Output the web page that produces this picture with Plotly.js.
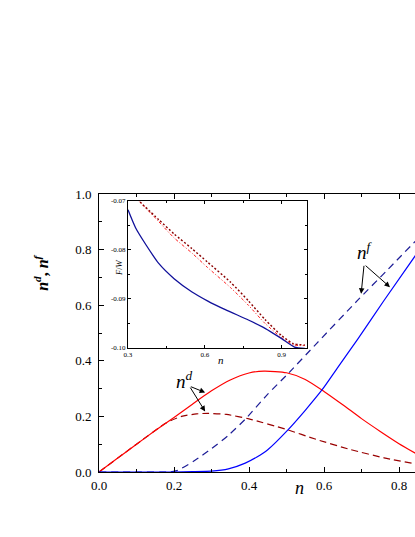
<!DOCTYPE html>
<html><head><meta charset="utf-8">
<script src="https://cdn.plot.ly/plotly-3.0.1.min.js"></script>
<style>html,body{margin:0;padding:0;overflow:hidden;background:#fff;width:415px;height:537px}#chart{width:500px;height:537px}</style>
</head><body><div id="chart"></div><script>
// Main panel: n^d, n^f vs n
const ndSolidN = [0, 0.05, 0.1, 0.15, 0.2, 0.25, 0.3, 0.35, 0.4, 0.44, 0.5, 0.55, 0.6, 0.65, 0.7, 0.75, 0.8, 0.86];
const ndSolidY = [0, 0.05, 0.1, 0.149, 0.196, 0.245, 0.292, 0.331, 0.356, 0.363, 0.357, 0.333, 0.29, 0.242, 0.192, 0.146, 0.102, 0.055];
const ndDashN = [0, 0.1, 0.18, 0.22, 0.26, 0.29, 0.34, 0.4, 0.5, 0.58, 0.67, 0.76, 0.86];
const ndDashY = [0, 0.1, 0.177, 0.2, 0.209, 0.211, 0.207, 0.191, 0.153, 0.117, 0.081, 0.051, 0.025];
const nfDashN = [0, 0.1, 0.19, 0.21, 0.256, 0.3, 0.345, 0.39, 0.45, 0.5, 0.58, 0.69, 0.77, 0.86];
const nfDashY = [0, 0, 0, 0.006, 0.042, 0.084, 0.132, 0.19, 0.28, 0.348, 0.462, 0.618, 0.728, 0.853];
const nfSolidN = [0, 0.1, 0.2, 0.25, 0.3, 0.345, 0.39, 0.42, 0.45, 0.5, 0.55, 0.595, 0.635, 0.69, 0.76, 0.86];
const nfSolidY = [0, 0, 0, 0.001, 0.003, 0.011, 0.032, 0.053, 0.08, 0.146, 0.222, 0.296, 0.373, 0.478, 0.617, 0.81];
// Inset: F/W vs n
const fBlueN = [0.3, 0.33, 0.37, 0.42, 0.48, 0.55, 0.61, 0.68, 0.77, 0.835, 0.9, 0.95, 0.99];
const fBlueY = [-0.0719, -0.0756, -0.079, -0.0828, -0.0859, -0.0886, -0.0904, -0.0922, -0.0943, -0.096, -0.0981, -0.0998, -0.1001];
const fDarkN = [0.335, 0.42, 0.48, 0.55, 0.61, 0.7, 0.77, 0.835, 0.9, 0.945, 0.99];
const fDarkY = [-0.0697, -0.0739, -0.0768, -0.0798, -0.0825, -0.0866, -0.0904, -0.0942, -0.0975, -0.0991, -0.0994];
const fRedN = [0.335, 0.42, 0.48, 0.55, 0.61, 0.7, 0.77, 0.835, 0.9, 0.95, 0.99];
const fRedY = [-0.0697, -0.0743, -0.0776, -0.0807, -0.0836, -0.0877, -0.0913, -0.095, -0.0979, -0.0994, -0.0995];
// Tick labels
const mainTickVals = [0, 0.2, 0.4, 0.6, 0.8, 1.0];
const mainTickText = ['0.0', '0.2', '0.4', '0.6', '0.8', '1.0'];
const insetXVals = [0.3, 0.6, 0.9];
const insetXText = ['0.3', '0.6', '0.9'];
const insetYVals = [-0.10, -0.09, -0.08, -0.07];
const insetYText = ['-0.10', '-0.09', '-0.08', '-0.07'];

const serif = 'Liberation Serif, Times New Roman, DejaVu Serif, serif';
function tr(x, y, color, dash, axes, width) {
  return {x: x, y: y, type: 'scatter', mode: 'lines', xaxis: axes[0], yaxis: axes[1],
    line: {color: color, width: width || 1.2, dash: dash, shape: 'spline', smoothing: 0.6},
    hoverinfo: 'skip'};
}
const traces = [
  tr(ndDashN, ndDashY, '#990000', '7px,4px', ['x', 'y']),
  tr(ndSolidN, ndSolidY, '#ff0000', 'solid', ['x', 'y']),
  tr(nfDashN, nfDashY, '#1c1c96', '7px,5px', ['x', 'y']),
  tr(nfSolidN, nfSolidY, '#0000ff', 'solid', ['x', 'y']),
  tr(fRedN, fRedY, '#ff2020', '3px,2px,1px,2px', ['x2', 'y2'], 1),
  tr(fDarkN, fDarkY, '#8b0000', '2px,2px', ['x2', 'y2'], 1.4),
  tr(fBlueN, fBlueY, '#10109a', 'solid', ['x2', 'y2'], 1.3)
];

const axMain = {showline: true, linecolor: 'black', linewidth: 1, mirror: 'allticks', ticks: 'inside',
  ticklen: 5, tickcolor: 'black', showgrid: false, zeroline: false,
  tickfont: {family: serif, size: 13, color: 'black'},
  minor: {ticks: 'inside', ticklen: 3, tickcolor: 'black', dtick: 0.1, showgrid: false}};
const axInset = {showline: true, linecolor: 'black', linewidth: 1, mirror: 'allticks', ticks: 'inside',
  ticklen: 3, tickcolor: 'black', showgrid: false, zeroline: false,
  tickfont: {family: serif, size: 7, color: 'black'}};

const arrow = (x, y, ax, ay) => ({x: x, y: y, ax: ax, ay: ay, xref: 'x', yref: 'y', axref: 'x', ayref: 'y',
  text: '', showarrow: true, arrowhead: 2, arrowsize: 1.1, arrowwidth: 1, arrowcolor: 'black', standoff: 0, startstandoff: 0});

const layout = {
  width: 500, height: 537,
  margin: {l: 99, r: 26, t: 194, b: 65},
  paper_bgcolor: 'white', plot_bgcolor: 'white', showlegend: false,
  font: {family: serif, color: 'black'},
  xaxis: Object.assign({}, axMain, {range: [0, 1], tickvals: mainTickVals, ticktext: mainTickText, ticklabelstandoff: 1}),
  yaxis: Object.assign({}, axMain, {range: [0, 1], tickvals: mainTickVals, ticktext: mainTickText, ticklabelstandoff: 4}),
  xaxis2: Object.assign({}, axInset, {domain: [0.0773, 0.5555], anchor: 'y2', range: [0.3, 1.0],
    tickvals: insetXVals, ticktext: insetXText, minor: {ticks: 'inside', ticklen: 2, tickcolor: 'black', dtick: 0.15, tick0: 0.3}}),
  yaxis2: Object.assign({}, axInset, {domain: [0.446, 0.9766], anchor: 'x2', range: [-0.10, -0.07],
    tickvals: insetYVals, ticktext: insetYText, minor: {ticks: 'inside', ticklen: 2, tickcolor: 'black', dtick: 0.005, tick0: -0.1}}),
  annotations: [
    {text: '<b><i>n</i><sup><i>d</i></sup>, <i>n</i><sup><i>f</i></sup></b>', xref: 'paper', yref: 'paper', x: -0.155, y: 0.716,
      textangle: -90, showarrow: false, font: {family: serif, size: 16}, xanchor: 'center', yanchor: 'middle'},
    {text: '<i>n</i>', xref: 'x', yref: 'paper', x: 0.534, y: -0.056, showarrow: false,
      font: {family: serif, size: 18}, xanchor: 'center', yanchor: 'middle'},
    {text: '<i>F</i>/<i>W</i>', xref: 'paper', yref: 'paper', x: 0.053, y: 0.737, textangle: -90, showarrow: false,
      font: {family: serif, size: 8.5}, xanchor: 'center', yanchor: 'middle'},
    {text: '<i>n</i>', xref: 'x2', yref: 'paper', x: 0.663, y: 0.403, showarrow: false,
      font: {family: serif, size: 11}, xanchor: 'center', yanchor: 'middle'},
    {text: '<i>n</i><sup><i>d</i></sup>', xref: 'x', yref: 'y', x: 0.229, y: 0.33, showarrow: false,
      font: {family: serif, size: 19}, xanchor: 'center', yanchor: 'middle'},
    arrow(0.283, 0.286, 0.241, 0.309),
    arrow(0.283, 0.218, 0.241, 0.309),
    {text: '<i>n</i><sup><i>f</i></sup>', xref: 'x', yref: 'y', x: 0.71, y: 0.795, showarrow: false,
      font: {family: serif, size: 19}, xanchor: 'center', yanchor: 'middle'},
    arrow(0.699, 0.641, 0.707, 0.747),
    arrow(0.776, 0.665, 0.707, 0.747)
  ]
};
Plotly.newPlot('chart', traces, layout, {displayModeBar: false, staticPlot: true});
</script></body></html>
